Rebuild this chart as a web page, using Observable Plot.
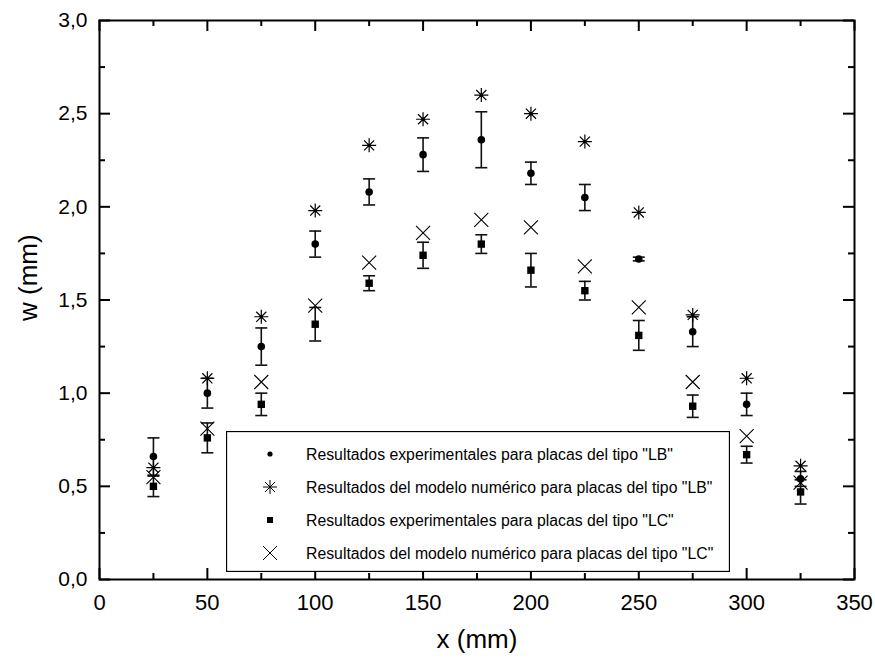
<!DOCTYPE html>
<html><head><meta charset="utf-8">
<script src="https://cdn.jsdelivr.net/npm/d3@7"></script>
<script src="https://cdn.jsdelivr.net/npm/@observablehq/plot@0.6"></script>
<style>
body{margin:0;background:#fff;}
#wrap{position:relative;width:875px;height:664px;font-family:"Liberation Sans",Arial,sans-serif;}
#legend{position:absolute;left:226px;top:431px;}
</style>
</head><body>
<div id="wrap"><div id="chart"></div><svg id="legend" width="504" height="141"></svg></div>
<script>
// Data
const xPos     = [25, 50, 75, 100, 125, 150, 177, 200, 225, 250, 275, 300, 325];
const lbExp    = [0.66, 1.00, 1.25, 1.80, 2.08, 2.28, 2.36, 2.18, 2.05, 1.72, 1.33, 0.94, 0.54];
const lbExpErr = [0.10, 0.08, 0.10, 0.07, 0.07, 0.09, 0.15, 0.06, 0.07, 0.01, 0.08, 0.06, 0.04];
const lbNum    = [0.60, 1.08, 1.41, 1.98, 2.33, 2.47, 2.60, 2.50, 2.35, 1.97, 1.42, 1.08, 0.61];
const lcExp    = [0.50, 0.76, 0.94, 1.37, 1.59, 1.74, 1.80, 1.66, 1.55, 1.31, 0.93, 0.67, 0.47];
const lcExpErr = [0.055, 0.08, 0.06, 0.09, 0.04, 0.07, 0.05, 0.09, 0.05, 0.08, 0.06, 0.045, 0.065];
const lcNum    = [0.55, 0.81, 1.06, 1.47, 1.70, 1.86, 1.93, 1.89, 1.68, 1.46, 1.06, 0.77, 0.52];
const xTicks = [0, 50, 100, 150, 200, 250, 300, 350];
const xMinor = [25, 75, 125, 175, 225, 275, 325];
const yTicks = [0, 0.5, 1.0, 1.5, 2.0, 2.5, 3.0];
const yMinor = [0.25, 0.75, 1.25, 1.75, 2.25, 2.75];
const seriesNames = [
  'Resultados experimentales para placas del tipo "LB"',
  'Resultados del modelo numérico para placas del tipo "LB"',
  'Resultados experimentales para placas del tipo "LC"',
  'Resultados del modelo numérico para placas del tipo "LC"'
];

const rowsLB = xPos.map((x, i) => ({x, y: lbExp[i], e: lbExpErr[i]}));
const rowsLC = xPos.map((x, i) => ({x, y: lcExp[i], e: lcExpErr[i]}));
const numLB = xPos.map((x, i) => ({x, y: lbNum[i]}));
const numLC = xPos.map((x, i) => ({x, y: lcNum[i]}));

const rad = s => Math.sqrt(s / Math.PI);
const asterisk = {draw(c, s){ const r = rad(s), d = r * 0.72;
  c.moveTo(-r,0); c.lineTo(r,0); c.moveTo(0,-r); c.lineTo(0,r);
  c.moveTo(-d,-d); c.lineTo(d,d); c.moveTo(-d,d); c.lineTo(d,-d);}};
const cross = {draw(c, s){ const r = rad(s);
  c.moveTo(-r,-r); c.lineTo(r,r); c.moveTo(-r,r); c.lineTo(r,-r);}};
const capSym = {draw(c, s){ const r = rad(s); c.moveTo(-r,0); c.lineTo(r,0);}};
const squareSym = {draw(c, s){ const r = rad(s); c.rect(-r,-r,2*r,2*r);}};

const W = 875, H = 664, mL = 99, mR = 21, mT = 20, mB = 85;
const pw = W - mL - mR, ph = H - mT - mB;
const fmt = d => d3.format(".1f")(d).replace(".", ",");

const chart = Plot.plot({
  width: W, height: H,
  marginLeft: mL, marginRight: mR, marginTop: mT, marginBottom: mB,
  style: {fontFamily: '"Liberation Sans", Arial, sans-serif', background: "#fff", color: "#000", overflow: "visible"},
  x: {domain: [0, 350]},
  y: {domain: [0, 3]},
  marks: [
    // error bars
    Plot.ruleX(rowsLB, {x: "x", y1: d => d.y - d.e, y2: d => d.y + d.e, stroke: "#111", strokeWidth: 1.6}),
    Plot.dot(rowsLB, {x: "x", y: d => d.y - d.e, symbol: capSym, r: 6, stroke: "#111", strokeWidth: 1.6, fill: "none"}),
    Plot.dot(rowsLB, {x: "x", y: d => d.y + d.e, symbol: capSym, r: 6, stroke: "#111", strokeWidth: 1.6, fill: "none"}),
    Plot.ruleX(rowsLC, {x: "x", y1: d => d.y - d.e, y2: d => d.y + d.e, stroke: "#111", strokeWidth: 1.6}),
    Plot.dot(rowsLC, {x: "x", y: d => d.y - d.e, symbol: capSym, r: 6, stroke: "#111", strokeWidth: 1.6, fill: "none"}),
    Plot.dot(rowsLC, {x: "x", y: d => d.y + d.e, symbol: capSym, r: 6, stroke: "#111", strokeWidth: 1.6, fill: "none"}),
    // points
    Plot.dot(numLB, {x: "x", y: "y", symbol: asterisk, r: 7, stroke: "#000", strokeWidth: 1.2, fill: "none"}),
    Plot.dot(numLB, {x: "x", y: "y", r: 1.6, fill: "#000", stroke: "none"}),
    Plot.dot(numLC, {x: "x", y: "y", symbol: cross, r: 7, stroke: "#000", strokeWidth: 1.1, fill: "none"}),
    Plot.dot(rowsLB, {x: "x", y: "y", r: 3.8, fill: "#000", stroke: "none"}),
    Plot.dot(rowsLC, {x: "x", y: "y", symbol: squareSym, r: 3.7, fill: "#000", stroke: "none"}),
    // frame & inward ticks
    Plot.frame({stroke: "#000", strokeWidth: 2}),
    Plot.tickX(xTicks, {x: d => d, insetTop: ph - 11, stroke: "#000", strokeWidth: 2}),
    Plot.tickX(xTicks, {x: d => d, insetBottom: ph - 11, stroke: "#000", strokeWidth: 2}),
    Plot.tickX(xMinor, {x: d => d, insetTop: ph - 6, stroke: "#000", strokeWidth: 2}),
    Plot.tickX(xMinor, {x: d => d, insetBottom: ph - 6, stroke: "#000", strokeWidth: 2}),
    Plot.tickY(yTicks, {y: d => d, insetRight: pw - 11, stroke: "#000", strokeWidth: 2}),
    Plot.tickY(yTicks, {y: d => d, insetLeft: pw - 11, stroke: "#000", strokeWidth: 2}),
    Plot.tickY(yMinor, {y: d => d, insetRight: pw - 6, stroke: "#000", strokeWidth: 2}),
    Plot.tickY(yMinor, {y: d => d, insetLeft: pw - 6, stroke: "#000", strokeWidth: 2}),
    // axes labels
    Plot.axisX(xTicks, {tickSize: 0, tickPadding: 15, fontSize: 22, label: null, tickFormat: d => String(d)}),
    Plot.axisY(yTicks, {tickSize: 0, tickPadding: 12, fontSize: 21, label: null, tickFormat: fmt}),
    Plot.text(["x (mm)"], {frameAnchor: "bottom", text: d => d, dy: 68, fontSize: 26}),
    Plot.text(["w (mm)"], {frameAnchor: "left", text: d => d, rotate: -90, dx: -71, dy: 21, fontSize: 26})
  ]
});
document.getElementById("chart").appendChild(chart);

// Legend
const lg = d3.select("#legend");
lg.append("rect").attr("x", 0.5).attr("y", 0.5).attr("width", 503).attr("height", 140)
  .attr("fill", "#fff").attr("stroke", "#000").attr("stroke-width", 1.3);
const symbols = [
  {type: d3.symbolCircle, size: Math.PI * 2.6 * 2.6, fill: "#000", stroke: "none"},
  {type: asterisk, size: Math.PI * 7 * 7, fill: "none", stroke: "#000"},
  {type: squareSym, size: Math.PI * 3 * 3, fill: "#000", stroke: "none"},
  {type: cross, size: Math.PI * 7 * 7, fill: "none", stroke: "#000"}
];
seriesNames.forEach((name, i) => {
  const cy = 23 + i * 33;
  lg.append("path").attr("transform", `translate(44,${cy})`)
    .attr("d", d3.symbol(symbols[i].type, symbols[i].size)())
    .attr("fill", symbols[i].fill).attr("stroke", symbols[i].stroke).attr("stroke-width", 1);
  lg.append("text").attr("x", 80).attr("y", cy).attr("dy", "0.35em")
    .attr("font-size", 15.8).attr("fill", "#000").text(name);
});
</script>
</body></html>
